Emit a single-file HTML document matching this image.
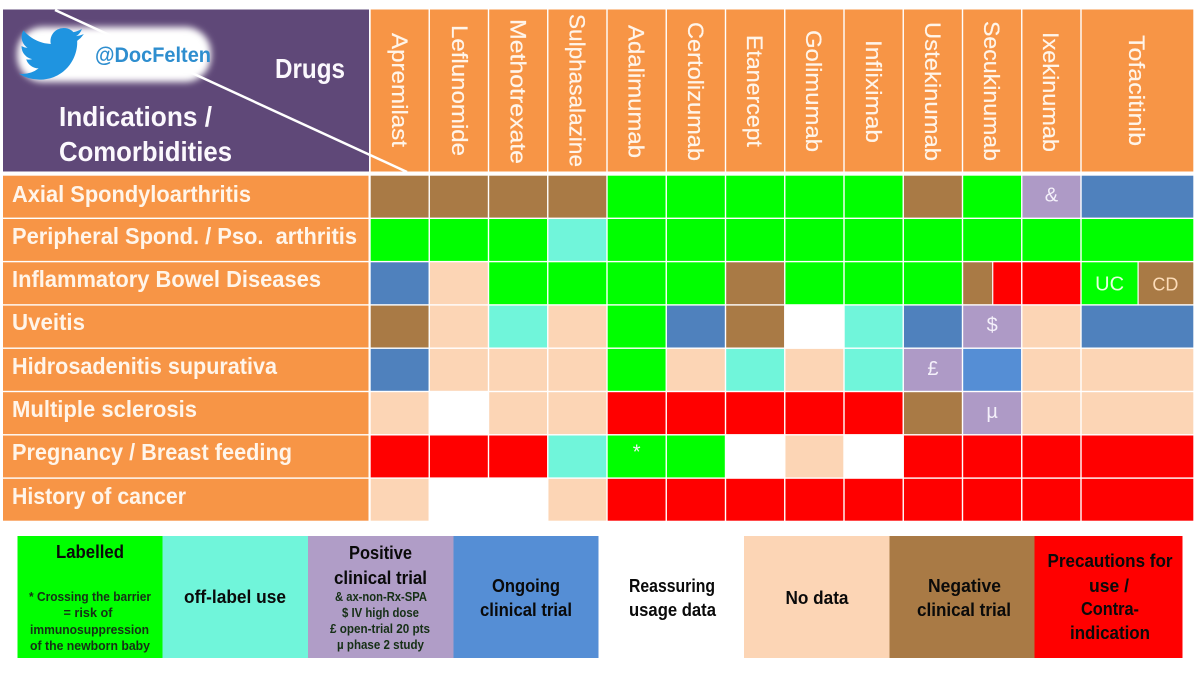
<!DOCTYPE html>
<html>
<head>
<meta charset="utf-8">
<title>Drugs by indication and comorbidity</title>
<style>
html,body{margin:0;padding:0;background:#fff;width:1200px;height:675px;overflow:hidden}
svg{display:block}
text{font-family:"Liberation Sans",sans-serif}
.drug{font-size:22px;fill:#fff5ea;stroke:#fff5ea;stroke-width:.2px}
.row{font-size:23px;font-weight:bold;fill:#fff5ea}
.corner{font-size:28px;font-weight:bold;fill:#fbf8fd}
.leg{font-size:18px;font-weight:bold;fill:#0a0a0a;text-anchor:middle}
.small{font-size:13px;font-weight:bold;fill:#163016;text-anchor:middle}
</style>
</head>
<body>
<svg id="chart" xmlns="http://www.w3.org/2000/svg" width="1200" height="675" viewBox="0 0 1200 675">
<defs>
<filter id="blob" x="-20%" y="-40%" width="140%" height="180%"><feGaussianBlur stdDeviation="3.5"/></filter>
</defs>
<rect x="0" y="0" width="1200" height="675" fill="#fff"/>

<g>
<rect x="3" y="9.5" width="366" height="162" fill="#5f4878"/>
<line x1="55" y1="10" x2="407" y2="172" stroke="#fff" stroke-width="2.5"/>
<rect x="17" y="27" width="194" height="55" rx="26" fill="#fff" filter="url(#blob)"/>
<path transform="translate(19,22) scale(2.7,2.65)" fill="#1f94e0" d="M23.953 4.57a10 10 0 01-2.825.775 4.958 4.958 0 002.163-2.723c-.951.555-2.005.959-3.127 1.184a4.92 4.92 0 00-8.384 4.482C7.69 8.095 4.067 6.13 1.64 3.162a4.822 4.822 0 00-.666 2.475c0 1.71.87 3.213 2.188 4.096a4.904 4.904 0 01-2.228-.616v.06a4.923 4.923 0 003.946 4.827 4.996 4.996 0 01-2.212.085 4.936 4.936 0 004.604 3.417 9.867 9.867 0 01-6.102 2.105c-.39 0-.779-.023-1.17-.067a13.995 13.995 0 007.557 2.209c9.053 0 13.998-7.496 13.998-13.985 0-.21 0-.42-.015-.63A9.935 9.935 0 0024 4.59z"/>
<text x="95" y="62" font-size="21" font-weight="bold" fill="#2e8ecf" textLength="116" lengthAdjust="spacingAndGlyphs">@DocFelten</text>
<text class="corner" x="275" y="78" textLength="70" lengthAdjust="spacingAndGlyphs">Drugs</text>
<text class="corner" x="59" y="126" textLength="153" lengthAdjust="spacingAndGlyphs">Indications /</text>
<text class="corner" x="59" y="161" textLength="173" lengthAdjust="spacingAndGlyphs">Comorbidities</text>
</g>

<g id="drug-bg"></g>
<line x1="369" y1="154.5" x2="407" y2="172" stroke="#fff" stroke-width="2.5"/>

<g>
<text class="drug" transform="translate(392,33) rotate(90)" textLength="114" lengthAdjust="spacingAndGlyphs">Apremilast</text>
<text class="drug" transform="translate(452,25) rotate(90)" textLength="131" lengthAdjust="spacingAndGlyphs">Leflunomide</text>
<text class="drug" transform="translate(510.500,19) rotate(90)" textLength="145" lengthAdjust="spacingAndGlyphs">Methotrexate</text>
<text class="drug" transform="translate(569.500,14) rotate(90)" textLength="153" lengthAdjust="spacingAndGlyphs">Sulphasalazine</text>
<text class="drug" transform="translate(628.500,25) rotate(90)" textLength="133" lengthAdjust="spacingAndGlyphs">Adalimumab</text>
<text class="drug" transform="translate(688,22) rotate(90)" textLength="139" lengthAdjust="spacingAndGlyphs">Certolizumab</text>
<text class="drug" transform="translate(747,35) rotate(90)" textLength="112" lengthAdjust="spacingAndGlyphs">Etanercept</text>
<text class="drug" transform="translate(806,30) rotate(90)" textLength="122" lengthAdjust="spacingAndGlyphs">Golimumab</text>
<text class="drug" transform="translate(866,40) rotate(90)" textLength="103" lengthAdjust="spacingAndGlyphs">Infliximab</text>
<text class="drug" transform="translate(925,22) rotate(90)" textLength="139" lengthAdjust="spacingAndGlyphs">Ustekinumab</text>
<text class="drug" transform="translate(984,21) rotate(90)" textLength="140" lengthAdjust="spacingAndGlyphs">Secukinumab</text>
<text class="drug" transform="translate(1043,32) rotate(90)" textLength="120" lengthAdjust="spacingAndGlyphs">Ixekinumab</text>
<text class="drug" transform="translate(1129,35) rotate(90)" textLength="111" lengthAdjust="spacingAndGlyphs">Tofacitinib</text>
</g>

<g id="row-bg"></g>
<g>
<text class="row" x="12" y="202" textLength="239" lengthAdjust="spacingAndGlyphs">Axial Spondyloarthritis</text>
<text class="row" x="12" y="244" textLength="345" lengthAdjust="spacingAndGlyphs" xml:space="preserve">Peripheral Spond. / Pso.  arthritis</text>
<text class="row" x="12" y="287" textLength="309" lengthAdjust="spacingAndGlyphs">Inflammatory Bowel Diseases</text>
<text class="row" x="12" y="330" textLength="73" lengthAdjust="spacingAndGlyphs">Uveitis</text>
<text class="row" x="12" y="374" textLength="265" lengthAdjust="spacingAndGlyphs">Hidrosadenitis supurativa</text>
<text class="row" x="12" y="417" textLength="185" lengthAdjust="spacingAndGlyphs">Multiple sclerosis</text>
<text class="row" x="12" y="460" textLength="280" lengthAdjust="spacingAndGlyphs">Pregnancy / Breast feeding</text>
<text class="row" x="12" y="504" textLength="174" lengthAdjust="spacingAndGlyphs">History of cancer</text>
</g>

<g id="cells"></g>

<g>
<g>
<rect x="17.500" y="536" width="145" height="122" fill="#00ff00"/>
<text class="leg" x="90" y="558" textLength="68" lengthAdjust="spacingAndGlyphs">Labelled</text>
<text class="small" x="90" y="601" textLength="122" lengthAdjust="spacingAndGlyphs">* Crossing the barrier</text>
<text class="small" x="88" y="617" textLength="49" lengthAdjust="spacingAndGlyphs">= risk of</text>
<text class="small" x="89.500" y="634" textLength="119" lengthAdjust="spacingAndGlyphs">immunosuppression</text>
<text class="small" x="90" y="650" textLength="120" lengthAdjust="spacingAndGlyphs">of the newborn baby</text>
</g>
<g>
<rect x="162.500" y="536" width="145.500" height="122" fill="#70f5da"/>
<text class="leg" x="235" y="603" textLength="102" lengthAdjust="spacingAndGlyphs">off-label use</text>
</g>
<g>
<rect x="308" y="536" width="145.500" height="122" fill="#b09dc7"/>
<text class="leg" x="380.500" y="559" textLength="63" lengthAdjust="spacingAndGlyphs">Positive</text>
<text class="leg" x="380.500" y="584" textLength="93" lengthAdjust="spacingAndGlyphs">clinical trial</text>
<text class="small" x="381" y="601" textLength="92" lengthAdjust="spacingAndGlyphs">&amp; ax-non-Rx-SPA</text>
<text class="small" x="380.500" y="617" textLength="77" lengthAdjust="spacingAndGlyphs">$ IV high dose</text>
<text class="small" x="380" y="633" textLength="100" lengthAdjust="spacingAndGlyphs">£ open-trial 20 pts</text>
<text class="small" x="380.500" y="649" textLength="87" lengthAdjust="spacingAndGlyphs">µ phase 2 study</text>
</g>
<g>
<rect x="453.500" y="536" width="145" height="122" fill="#558ed5"/>
<text class="leg" x="526" y="592" textLength="68" lengthAdjust="spacingAndGlyphs">Ongoing</text>
<text class="leg" x="526" y="616" textLength="92" lengthAdjust="spacingAndGlyphs">clinical trial</text>
</g>
<g>
<rect x="598.500" y="536" width="145.500" height="122" fill="#ffffff"/>
<text class="leg" x="672" y="592" textLength="86" lengthAdjust="spacingAndGlyphs">Reassuring</text>
<text class="leg" x="672.500" y="616" textLength="87" lengthAdjust="spacingAndGlyphs">usage data</text>
</g>
<g>
<rect x="744" y="536" width="145.500" height="122" fill="#fcd5b5"/>
<text class="leg" x="817" y="604" textLength="63" lengthAdjust="spacingAndGlyphs">No data</text>
</g>
<g>
<rect x="889.500" y="536" width="145" height="122" fill="#a97a45"/>
<text class="leg" x="964.500" y="592" textLength="73" lengthAdjust="spacingAndGlyphs">Negative</text>
<text class="leg" x="964" y="616" textLength="94" lengthAdjust="spacingAndGlyphs">clinical trial</text>
</g>
<g>
<rect x="1034.500" y="536" width="148" height="122" fill="#ff0000"/>
<text class="leg" x="1110" y="567" textLength="125" lengthAdjust="spacingAndGlyphs">Precautions for</text>
<text class="leg" x="1109" y="592" textLength="40" lengthAdjust="spacingAndGlyphs">use /</text>
<text class="leg" x="1110" y="615" textLength="58" lengthAdjust="spacingAndGlyphs">Contra-</text>
<text class="leg" x="1110" y="639" textLength="80" lengthAdjust="spacingAndGlyphs">indication</text>
</g>
</g>
</svg>
<script>
var drugs = ["Apremilast","Leflunomide","Methotrexate","Sulphasalazine","Adalimumab","Certolizumab","Etanercept","Golimumab","Infliximab","Ustekinumab","Secukinumab","Ixekinumab","Tofacitinib"];
var indications = ["Axial Spondyloarthritis","Peripheral Spond. / Pso. arthritis","Inflammatory Bowel Diseases","Uveitis","Hidrosadenitis supurativa","Multiple sclerosis","Pregnancy / Breast feeding","History of cancer"];
var axialSpa = ["neg","neg","neg","neg","lab","lab","lab","lab","lab","neg","lab","pos","ong"];
var peripheral = ["lab","lab","lab","off","lab","lab","lab","lab","lab","lab","lab","lab","lab"];
var ibd = ["ong","nod","lab","lab","lab","lab","neg","lab","lab","lab","neg/pre","pre","lab/neg"];
var uveitis = ["neg","nod","off","nod","lab","ong","neg","rea","off","ong","pos","nod","ong"];
var hidrosadenitis = ["ong","nod","nod","nod","lab","nod","off","nod","off","pos","on2","nod","nod"];
var multipleSclerosis = ["nod","rea","nod","nod","pre","pre","pre","pre","pre","neg","pos","nod","nod"];
var pregnancy = ["pre","pre","pre","off","lab","lab","rea","nod","rea","pre","pre","pre","pre"];
var cancer = ["nod","rea","rea","nod","pre","pre","pre","pre","pre","pre","pre","pre","pre"];
var statusRows = [axialSpa, peripheral, ibd, uveitis, hidrosadenitis, multipleSclerosis, pregnancy, cancer];
var noteDrug = ["Ixekinumab","Secukinumab","Ustekinumab","Secukinumab","Adalimumab"];
var noteIndication = ["Axial Spondyloarthritis","Uveitis","Hidrosadenitis supurativa","Multiple sclerosis","Pregnancy / Breast feeding"];
var noteText = ["&","$","£","µ","*"];
var splitLabels = {"Inflammatory Bowel Diseases|Tofacitinib": ["UC","CD"]};
var statusColour = {neg:"#a97a45",lab:"#00ff00",pos:"#ae9ac6",ong:"#4f81bd",on2:"#558ed5",off:"#70f5da",nod:"#fcd5b5",rea:"#ffffff",pre:"#ff0000"};

var NS = "http://www.w3.org/2000/svg";
var colLeft = 370, colStep = 59.25, lastColWidth = 113;
var rowTop = 175, rowStep = 43.3, gap = 1.4;
function xAt(i){ return colLeft + colStep * i; }
function widthAt(i){ return i === drugs.length - 1 ? lastColWidth : colStep; }
function yAt(r){ return rowTop + rowStep * r; }
function rect(parent, x, y, w, h, fill){
  var el = document.createElementNS(NS, "rect");
  el.setAttribute("x", x);
  el.setAttribute("y", y);
  el.setAttribute("width", w);
  el.setAttribute("height", h);
  el.setAttribute("fill", fill);
  parent.appendChild(el);
  return el;
}
function slug(s){ return s.toLowerCase().replace(/[^a-z0-9]+/g, "-").replace(/^-|-$/g, ""); }
function label(parent, x, y, str, size, fill){
  var el = document.createElementNS(NS, "text");
  el.setAttribute("x", x);
  el.setAttribute("y", y);
  el.setAttribute("text-anchor", "middle");
  el.setAttribute("font-size", size);
  el.setAttribute("fill", fill);
  el.textContent = str;
  parent.appendChild(el);
  return el;
}
var drugBg = document.getElementById("drug-bg");
drugs.forEach(function(d, i){
  var el = rect(drugBg, xAt(i) + gap / 2, 9.5, widthAt(i) - gap, 162, "#f79546");
  
  
});
var rowBg = document.getElementById("row-bg");
indications.forEach(function(n, r){
  var el = rect(rowBg, 3, yAt(r) + gap / 2, 365.5, rowStep - gap, "#f79546");
  
  
});
var cells = document.getElementById("cells");
statusRows.forEach(function(row, r){
  row.forEach(function(code, c){
    var parts = code.split("/");
    var w = (widthAt(c) - gap) / parts.length;
    var cx = xAt(c) + gap / 2;
    var cy = yAt(r) + gap / 2;
    var h = rowStep - gap;
    var lbls = splitLabels[indications[r] + "|" + drugs[c]];
    parts.forEach(function(p, k){
      var pad = parts.length > 1 && k === 1 ? 1.2 : 0;
      var el = rect(cells, cx + w * k + pad, cy, w - pad, h, statusColour[p]);
      
      
      if (lbls) {
        var t = label(cells, cx + w * k + w / 2, cy + h / 2 + 7, lbls[k], k === 0 ? 20 : 18, k === 0 ? "#e8ffe0" : "#fcdcb8");
        
        
      }
    });
  });
});
noteText.forEach(function(str, i){
  var c = drugs.indexOf(noteDrug[i]);
  var r = indications.indexOf(noteIndication[i]);
  var t = label(cells, xAt(c) + widthAt(c) / 2, yAt(r) + rowStep / 2 + (str === "*" ? 2 : 5), str, 20, "#f4f0fa");
  
  
});
</script>
</body>
</html>
